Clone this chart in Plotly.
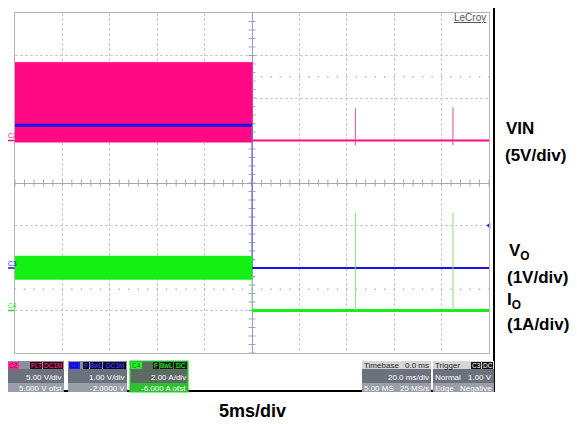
import numpy as np
import plotly.graph_objects as go

# ---------------- data ----------------
time_range_ms = [-25, 25]            # 10 div at 5 ms/div
t_switch_ms = 0.0                    # input removed at screen centre
spike_t_ms = [10.9, 21.2]            # small glitches after turn-off

vin_scale, vin_gnd_div = 5.0, 1.0    # V/div, ground marker (div)
vin_before_hi, vin_before_lo = 9.2, -0.2
vin_after = 0.0
vin_spike_hi = [3.8, 3.9]
vin_spike_lo = [-0.55, -0.55]

vo_scale, vo_gnd_div = 1.0, -2.0
vo_before, vo_after = 3.36, 0.0

io_scale, io_gnd_div = 1.0, -3.0
io_before_hi, io_before_lo = 1.28, 0.73
io_after = 0.0
io_spike_hi = [2.3, 2.3]

trig_level_v = 1.0                   # trigger on C3

PINK = "#ff0a84"
BLUE = "#1414e6"
GREEN = "#14f014"

# ---------------- geometry helpers ----------------
OFF = 8                      # page body margin of the html page
W, H = 577 - OFF, 424 - OFF
L, R, T, B = 15 - OFF, 88, 13 - OFF, 71
PW, PH = W - L - R, H - T - B


def px(x):
    return (x - OFF - L) / PW


def py(y):
    return (H - B - (y - OFF)) / PH


def dv(v, scale, gnd):
    return np.asarray(v, dtype=float) / scale + gnd


t0, t1 = time_range_ms
fig = go.Figure()

# centre-line tick marks and dotted +-2.5 div rows (graticule decoration)
tick_x = np.arange(t0, t1 + 0.01, 1.0)
tick_y = np.arange(-4, 4.01, 0.2)
fig.add_trace(go.Scatter(x=tick_x, y=np.zeros_like(tick_x), mode="markers",
                         marker=dict(symbol="line-ns", size=5, line=dict(width=1, color="#a8a8a8")),
                         hoverinfo="skip"))
fig.add_trace(go.Scatter(x=np.zeros_like(tick_y), y=tick_y, mode="markers",
                         marker=dict(symbol="line-ew", size=5, line=dict(width=1, color="#a0a0c8")),
                         hoverinfo="skip"))
for yy in (2.5, -2.5):
    fig.add_trace(go.Scatter(x=tick_x, y=np.full_like(tick_x, yy), mode="markers",
                             marker=dict(symbol="square", size=1.5, color="#b8b8b8"),
                             hoverinfo="skip"))

# ---- VIN (C2) ----
hi = float(dv(vin_before_hi, vin_scale, vin_gnd_div))
lo = float(dv(vin_before_lo, vin_scale, vin_gnd_div))
fig.add_trace(go.Scatter(x=[t0, t_switch_ms, t_switch_ms, t0, t0], y=[hi, hi, lo, lo, hi],
                         fill="toself", fillcolor=PINK, mode="lines",
                         line=dict(width=0.5, color=PINK), hoverinfo="skip"))
vin_a = float(dv(vin_after, vin_scale, vin_gnd_div))
fig.add_trace(go.Scatter(x=[t_switch_ms, t_switch_ms], y=[hi, vin_a], mode="lines",
                         line=dict(width=1, color=PINK), hoverinfo="skip"))
fig.add_trace(go.Scatter(x=[t_switch_ms, t1], y=[vin_a, vin_a], mode="lines",
                         line=dict(width=2.2, color=PINK), hoverinfo="skip"))
for ts, sh, sl in zip(spike_t_ms, vin_spike_hi, vin_spike_lo):
    fig.add_trace(go.Scatter(x=[ts, ts],
                             y=[float(dv(sl, vin_scale, vin_gnd_div)), float(dv(sh, vin_scale, vin_gnd_div))],
                             mode="lines", line=dict(width=1, color="#d0509a"), hoverinfo="skip"))

# ---- VO (C3) ----
vb = float(dv(vo_before, vo_scale, vo_gnd_div))
va = float(dv(vo_after, vo_scale, vo_gnd_div))
fig.add_trace(go.Scatter(x=[t0, t_switch_ms], y=[vb, vb], mode="lines",
                         line=dict(width=3, color=BLUE), hoverinfo="skip"))
fig.add_trace(go.Scatter(x=[t_switch_ms, t_switch_ms], y=[vb, va], mode="lines",
                         line=dict(width=1.2, color="#6a6ad8"), hoverinfo="skip"))
fig.add_trace(go.Scatter(x=[t_switch_ms, t1], y=[va, va], mode="lines",
                         line=dict(width=2.2, color=BLUE), hoverinfo="skip"))

# ---- IO (C4) ----
ih = float(dv(io_before_hi, io_scale, io_gnd_div))
il = float(dv(io_before_lo, io_scale, io_gnd_div))
ia = float(dv(io_after, io_scale, io_gnd_div))
fig.add_trace(go.Scatter(x=[t0, t_switch_ms, t_switch_ms, t0, t0], y=[ih, ih, il, il, ih],
                         fill="toself", fillcolor=GREEN, mode="lines",
                         line=dict(width=0.5, color=GREEN), hoverinfo="skip"))
fig.add_trace(go.Scatter(x=[t_switch_ms, t_switch_ms], y=[il, ia], mode="lines",
                         line=dict(width=1, color="#7ae07a"), hoverinfo="skip"))
fig.add_trace(go.Scatter(x=[t_switch_ms, t1], y=[ia, ia], mode="lines",
                         line=dict(width=3, color=GREEN), hoverinfo="skip"))
for ts, sh in zip(spike_t_ms, io_spike_hi):
    fig.add_trace(go.Scatter(x=[ts, ts], y=[ia, float(dv(sh, io_scale, io_gnd_div))],
                             mode="lines", line=dict(width=1, color="#80e080"), hoverinfo="skip"))

# trigger markers
trig_div = float(dv(trig_level_v, vo_scale, vo_gnd_div))
fig.add_trace(go.Scatter(x=[t1], y=[trig_div], mode="markers", cliponaxis=False,
                         marker=dict(symbol="triangle-left", size=5, color=BLUE), hoverinfo="skip"))
fig.add_trace(go.Scatter(x=[t_switch_ms], y=[-4.12], mode="markers", cliponaxis=False,
                         marker=dict(symbol="triangle-up", size=7, color=BLUE), hoverinfo="skip"))

axis_common = dict(showgrid=True, gridcolor="#cccccc", griddash="3px,2px", gridwidth=1,
                   showticklabels=False, ticks="", showline=True, mirror=True,
                   linecolor="#b4b4b4", linewidth=1, fixedrange=True)
fig.update_layout(
    width=W, height=H, margin=dict(l=L, r=R, t=T, b=B),
    paper_bgcolor="white", plot_bgcolor="white", showlegend=False, hovermode=False,
    xaxis=dict(range=time_range_ms, dtick=5, zeroline=True, zerolinecolor="#9a9ac8",
               zerolinewidth=1, **axis_common),
    yaxis=dict(range=[-4, 4], dtick=1, zeroline=True, zerolinecolor="#a8a8a8",
               zerolinewidth=1, **axis_common),
    font=dict(family="Liberation Sans, Arial, sans-serif"),
)

shapes = []
ann = []


def rect(x0, y0, x1, y1, fill, line_color=None, lw=0):
    shapes.append(dict(type="rect", xref="paper", yref="paper", x0=px(x0), x1=px(x1),
                       y0=py(y1), y1=py(y0), fillcolor=fill,
                       line=dict(width=lw, color=line_color or fill), layer="above"))


def text(x, y, s, color="white", size=8, anchor="left", **kw):
    ann.append(dict(xref="paper", yref="paper", x=px(x), y=py(y), text=s, showarrow=False,
                    xanchor=anchor, yanchor="middle", borderpad=0,
                    font=dict(color=color, size=size,
                              family="Liberation Sans, Arial, sans-serif", **kw)))


# outer scope frame
shapes.append(dict(type="rect", xref="paper", yref="paper", x0=px(6), x1=px(494),
                   y0=py(391), y1=py(7), line=dict(width=2, color="black"), layer="above"))

# channel ground markers on left edge
for yy, lab, col in ((dv(0, vin_scale, vin_gnd_div), "C2", PINK),
                     (dv(0, vo_scale, vo_gnd_div), "C3", BLUE),
                     (dv(0, io_scale, io_gnd_div), "C4", GREEN)):
    ypix = 353 - (float(yy) + 4) / 8 * 340
    shapes.append(dict(type="line", xref="paper", yref="paper", x0=px(7), x1=px(14.5),
                       y0=py(ypix), y1=py(ypix), line=dict(width=1.5, color=col)))
    text(7.5, ypix - 5, lab, color=col, size=6.5)

# ---- bottom info panels ----
# C2
rect(7, 361, 64, 392, "#6c717e")
rect(7, 361, 64, 369, "#8c8f98")
rect(7, 383, 64, 392, "#9a9ea8")
rect(8, 362, 19, 369, "#ff2a95")
text(13.5, 365.5, "C2", color="#a0004c", size=6.5, anchor="center")
rect(30, 362, 42, 369, "#2a0814")
text(36, 365.5, "FLT", color="#ff3090", size=6.5, anchor="center")
rect(43, 362, 63, 369, "#2a0814")
text(53, 365.5, "DC1M", color="#ff3090", size=6.5, anchor="center")
text(63, 377, "5.00 V/div", anchor="right")
text(63, 388, "5.000 V ofst", anchor="right")
# C3
rect(68, 361, 127, 392, "#6c717e")
rect(68, 361, 127, 369, "#8c8f98")
rect(68, 383, 127, 392, "#9a9ea8")
rect(69, 362, 80, 369, "#1a1aff")
text(74.5, 365.5, "C3", color="#000080", size=6.5, anchor="center")
rect(83, 362, 89, 369, "#080830")
text(86, 365.5, "F", color="#4a4aff", size=6.5, anchor="center")
rect(90, 362, 102, 369, "#080830")
text(96, 365.5, "BwL", color="#4a4aff", size=6.5, anchor="center")
rect(103, 362, 126, 369, "#080830")
text(114.5, 365.5, "DC1M", color="#4a4aff", size=6.5, anchor="center")
text(126, 377, "1.00 V/div", anchor="right")
text(126, 388, "-2.0000 V", anchor="right")
# C4
rect(130, 361, 188, 392, "#5d6a62", line_color="#22e022", lw=1.2)
rect(131, 383, 187, 392, "#2fc02f")
rect(131, 362, 142, 369, "#22ff22")
text(136.5, 365.5, "C4", color="#006000", size=6.5, anchor="center")
rect(153, 362, 159, 369, "#082808")
text(156, 365.5, "F", color="#40ff40", size=6.5, anchor="center")
rect(160, 362, 173, 369, "#082808")
text(166.5, 365.5, "BwL", color="#40ff40", size=6.5, anchor="center")
rect(174, 362, 187, 369, "#082808")
text(180.5, 365.5, "DC", color="#40ff40", size=6.5, anchor="center")
text(187, 377, "2.00 A/div", anchor="right")
text(187, 388, "-6.000 A ofst", anchor="right")
# Timebase
rect(362, 361, 431, 392, "#6c717e")
rect(362, 361, 431, 369, "#d6d6d6")
rect(362, 383, 431, 392, "#9a9ea8")
text(363, 365.5, "Timebase", color="#222222")
text(430, 365.5, "0.0 ms", color="#222222", anchor="right")
text(430, 377, "20.0 ms/div", anchor="right")
text(363, 388, "5.00 MS")
text(430, 388, "25 MS/s", anchor="right")
# Trigger
rect(433, 361, 494, 392, "#6c717e")
rect(433, 361, 494, 369, "#d6d6d6")
rect(433, 383, 494, 392, "#9a9ea8")
text(434, 365.5, "Trigger", color="#222222")
rect(471, 362, 481, 369, "#111111")
text(476, 365.5, "C3", color="white", size=6.5, anchor="center")
rect(482, 362, 493, 369, "#111111")
text(487.5, 365.5, "DC", color="white", size=6.5, anchor="center")
text(434, 377, "Normal")
text(493, 377, "1.00 V", anchor="right")
text(434, 388, "Edge")
text(493, 388, "Negative", anchor="right")

# LeCroy logo text
text(487, 18, "LeCroy", color="#555555", size=10, anchor="right", lineposition="under")

# right-hand labels and bottom time-scale label
text(505, 128.5, "<b>VIN</b>", color="black", size=17)
text(504, 155, "<b>(5V/div)</b>", color="black", size=17)
text(508, 252, "<b>V<sub>O</sub></b>", color="black", size=17)
text(506, 277, "<b>(1V/div)</b>", color="black", size=17)
text(506, 301, "<b>I<sub>O</sub></b>", color="black", size=17)
text(506, 324.5, "<b>(1A/div)</b>", color="black", size=17)
text(252, 411, "<b>5ms/div</b>", color="black", size=18, anchor="center")

fig.update_layout(shapes=shapes, annotations=ann)
fig.write_html("out.html")
